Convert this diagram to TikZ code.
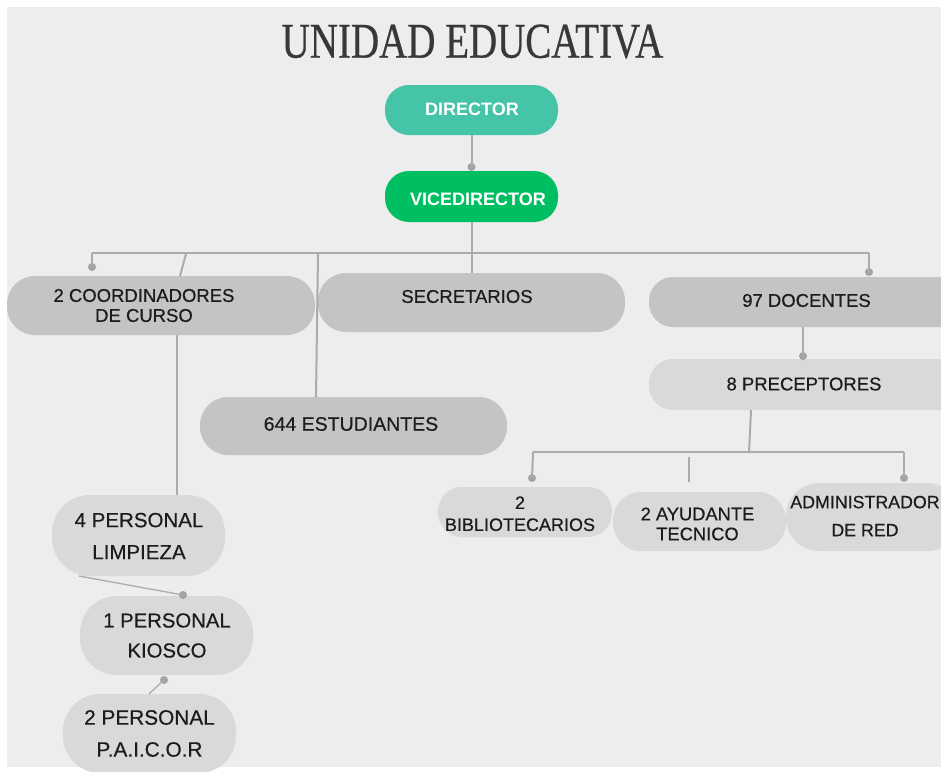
\documentclass[tikz,border=0pt]{standalone}
\usepackage{fontspec}
\usetikzlibrary{calc}
\setmainfont{Liberation Sans}
\newfontfamily\medfont{Liberation Sans}[FakeBold=0.5]
\newfontfamily\titlefont{Liberation Serif}[FakeBold=0.6]
\definecolor{bgC}{HTML}{EDEDED}
\definecolor{tealC}{HTML}{45C4A8}
\definecolor{greenC}{HTML}{00BF63}
\definecolor{pillDark}{HTML}{C4C4C4}
\definecolor{pillLight}{HTML}{D9D9D9}
\definecolor{lineC}{HTML}{ABABAB}
\definecolor{dotC}{HTML}{A3A3A3}
\definecolor{textC}{HTML}{1C1C1C}
\definecolor{titleC}{HTML}{383838}
\tikzset{
  pill/.style={rectangle, rounded corners=24pt, inner sep=0pt, draw=none},
  darkpill/.style={pill, fill=pillDark},
  lightpill/.style={pill, fill=pillLight},
  txt/.style={inner sep=0pt, text=textC, align=center, font=\medfont\fontsize{18.5}{20}\selectfont},
  toptxt/.style={inner sep=0pt, text=white, font=\bfseries\fontsize{18}{20}\selectfont},
  conn/.style={draw=lineC, line width=2pt},
  thinconn/.style={draw=lineC, line width=1.3pt},
  jdot/.style={circle, fill=dotC, inner sep=0pt, minimum size=8pt},
}
\begin{document}
\begin{tikzpicture}[x=1pt,y=-1pt]
\useasboundingbox (0,0) rectangle (941,771);
\clip (0,0) rectangle (941,771);
\fill[white] (0,0) rectangle (941,771);
\fill[bgC] (7,7) rectangle (941,767);

% title
\node[inner sep=0pt, text=titleC, font=\titlefont\fontsize{50}{50}\selectfont] (title) at (472.5,41.5) {\scalebox{0.78}[1]{UNIDAD EDUCATIVA}};

% boxes
\node[pill, fill=tealC, minimum width=173pt, minimum height=50pt] (dir) at (471.5,110) {};
\node[pill, fill=greenC, minimum width=173pt, minimum height=51pt] (vice) at (471.5,196.5) {};
\node[darkpill, rounded corners=28pt, minimum width=308pt, minimum height=59pt] (coord) at (161,305.5) {};
\node[darkpill, rounded corners=28pt, minimum width=307pt, minimum height=59pt] (sec) at (471.5,302.5) {};
\node[darkpill, minimum width=320pt, minimum height=50pt] (doc) at (809,302) {};
\node[lightpill, minimum width=320pt, minimum height=51pt] (prec) at (809,384.5) {};
\node[darkpill, rounded corners=28pt, minimum width=307pt, minimum height=58pt] (est) at (353.5,426) {};
\node[lightpill, minimum width=174pt, minimum height=50pt] (bib) at (525,512) {};
\node[lightpill, rounded corners=28pt, minimum width=173pt, minimum height=59pt] (ayu) at (699.5,521.5) {};
\node[lightpill, rounded corners=33pt, minimum width=174pt, minimum height=68pt] (adm) at (873,517) {};
\node[lightpill, rounded corners=38pt, minimum width=173pt, minimum height=81pt] (limp) at (138.5,535.5) {};
\node[lightpill, rounded corners=37pt, minimum width=173pt, minimum height=79pt] (kio) at (166.5,635.5) {};
\node[lightpill, rounded corners=37pt, minimum width=173pt, minimum height=79pt] (pai) at (149.5,733.5) {};

% texts
\node[toptxt] (dirT) at (472,109.3) {DIRECTOR};
\node[toptxt] (viceT) at (478,199.3) {VICEDIRECTOR};
\node[txt] (coordT) at (144,305.5) {2 COORDINADORES\\DE CURSO};
\node[txt] (secT) at (467,296.5) {SECRETARIOS};
\node[txt] (docT) at (806.5,300.5) {97 DOCENTES};
\node[txt] (precT) at (804,384) {8 PRECEPTORES};
\node[txt, font=\medfont\fontsize{19.5}{20}\selectfont] (estT) at (351,424) {644 ESTUDIANTES};
\node[txt, font=\medfont\fontsize{18}{22}\selectfont] (bibT) at (520,513.7) {2\\BIBLIOTECARIOS};
\node[txt, font=\medfont\fontsize{18.3}{20}\selectfont] (ayuT) at (697.5,524) {2 AYUDANTE\\TECNICO};
\node[txt, font=\medfont\fontsize{17.8}{28}\selectfont] (admT) at (865,516) {ADMINISTRADOR\\DE RED};
\node[txt, font=\medfont\fontsize{20.5}{32}\selectfont] (limpT) at (139,536) {4 PERSONAL\\LIMPIEZA};
\node[txt, font=\medfont\fontsize{20.3}{30}\selectfont] (kioT) at (167,635.5) {1 PERSONAL\\KIOSCO};
\node[txt, font=\medfont\fontsize{20.8}{32}\selectfont] (paiT) at (149.5,733.5) {2 PERSONAL\\P.A.I.C.O.R};

% dots
\node[jdot] (d1) at (471.5,167) {};
\node[jdot] (d2) at (92,267) {};
\node[jdot] (d3) at (869,272) {};
\node[jdot] (d4) at (803,356) {};
\node[jdot] (d5) at (532,478) {};
\node[jdot] (d6) at (904,478) {};
\node[jdot] (d7) at (183,595) {};
\node[jdot] (d8) at (164,680) {};

% bar coordinates
\coordinate (barL) at (92,253);
\coordinate (barR) at (869,253);
\coordinate (barC) at (186,254);
\coordinate (barE) at (318,254);
\coordinate (bar2L) at (533,452);
\coordinate (bar2R) at (904,452);
\coordinate (bar2M) at (689,457);

% connectors
\draw[conn] (dir.south) -- (d1.center);
\draw[conn] (vice.south) -- (sec.north);
\draw[conn] (barL) -- (barR);
\draw[conn] (barL) -- (d2.center);
\draw[conn] (barR) -- (d3.center);
\draw[conn] (barC) -- (180,276);
\draw[conn] (barE) -- (est.north -| 316,0);
\draw[conn] (doc.south -| d4) -- (d4.center);
\draw[conn] (prec.south -| 751,0) -- (749,453);
\draw[conn] (bar2L) -- (bar2R);
\draw[conn] (bar2L) -- (d5.center);
\draw[conn] (bar2R) -- (d6.center);
\draw[thinconn] (bar2M) -- ($(ayu.north -| bar2M)+(0,-10)$);
\draw[thinconn] (coord.south -| 177,0) -- (limp.north -| 177,0);
\draw[thinconn] (79,576) -- (d7.center);
\draw[thinconn] (pai.north -| 149,0) -- (d8.center);
\end{tikzpicture}
\end{document}
